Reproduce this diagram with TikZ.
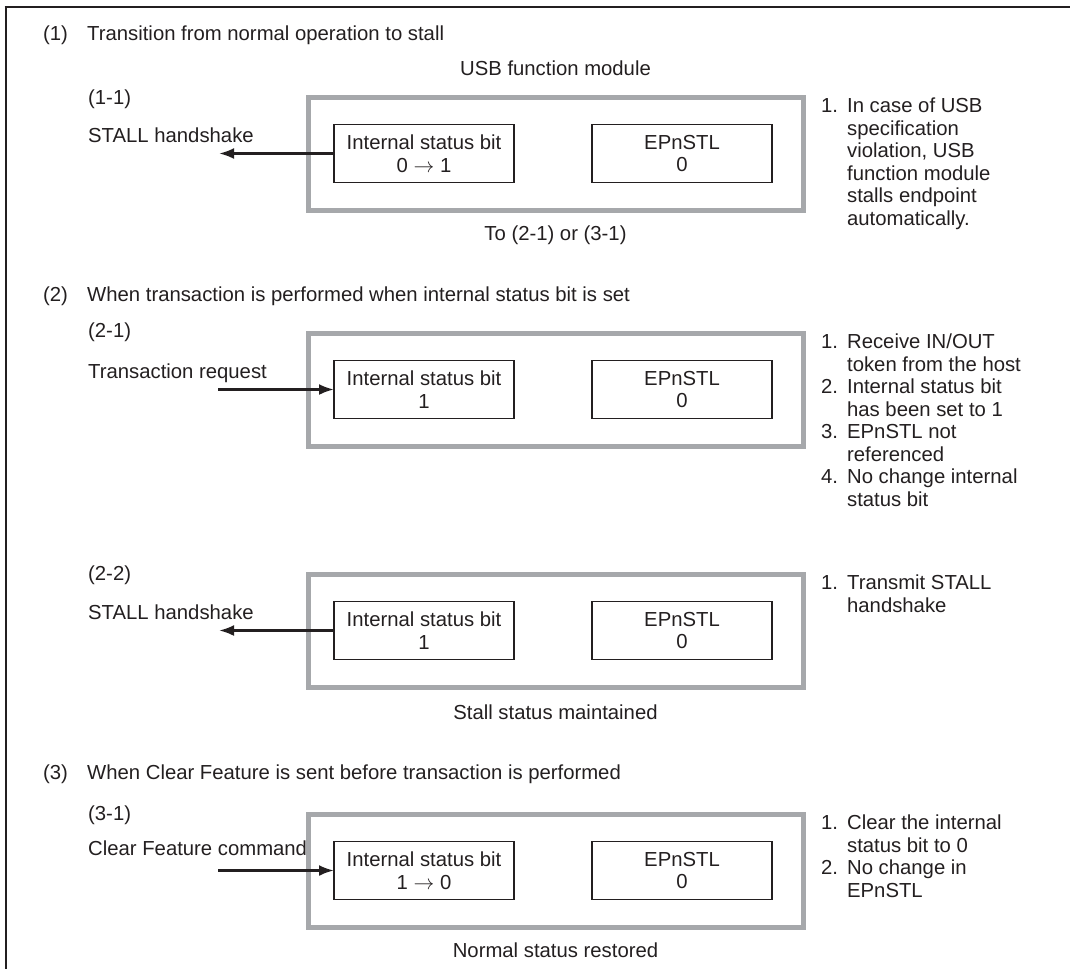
\documentclass[tikz,border=0pt]{standalone}
\usepackage{fontspec}
\setmainfont{Liberation Sans}
\usepackage{xcolor}
\usepackage{tikz}
\usetikzlibrary{arrows.meta, positioning, calc}
\definecolor{USBGray}{RGB}{166, 168, 171}
\definecolor{USBText}{RGB}{35, 31, 32}

\begin{document}
\begin{tikzpicture}[
    x=1pt, y=-1pt,
    every node/.style={font=\fontsize{20.3}{22.5}\selectfont, text=USBText, inner sep=0pt},
    modbox/.style={draw=USBGray, line width=5pt, outer sep=0pt, minimum width=495pt, minimum height=113pt},
    bitbox/.style={draw=USBText, line width=1.2pt, outer sep=0pt, minimum width=180pt, minimum height=58pt, align=center},
    note/.style={anchor=north west, align=left},
    flow/.style={line width=2.6pt, draw=USBText, -{Latex[length=15pt, width=11pt]}}
  ]
    \useasboundingbox (0,0) rectangle (1070,969);
    \draw[line width=2.6pt, USBText] (4.7,7) -- (1070,7);
    \draw[line width=2.6pt, USBText] (6,7) -- (6,969);

    % (1) normal operation -> stall
    \node[anchor=base west] (h1) at (43,40) {\makebox[44pt][l]{(1)}Transition from normal operation to stall};
    \node[modbox] (mod1) at (555.5,153.5) {};
    \node[bitbox, anchor=west] (isb1) at ([xshift=26pt]mod1.west) {Internal status bit\\[0.5pt]0 $\rightarrow$ 1};
    \node[bitbox, anchor=east] (stl1) at ([xshift=-31pt]mod1.east) {EPnSTL\\0};
    \node[anchor=base] (usb) at ([yshift=22pt]mod1.north) {USB function module};
    \node[anchor=base] (to1) at ([yshift=-30pt]mod1.south) {To (2-1) or (3-1)};
    \node[anchor=base west] (p11) at (88,104) {(1-1)};
    \node[anchor=base west] (stall1) at (88,142) {STALL handshake};
    \coordinate (hs1) at (219,153.5);
    \draw[flow] (isb1) -- (hs1);
    \node[note] (n1) at ([xshift=18pt]mod1.north east) {\begin{tabular}{@{}l@{\hspace{9pt}}l@{}}
      1. & In case of USB\\
         & specification\\
         & violation, USB\\
         & function module\\
         & stalls endpoint\\
         & automatically.
    \end{tabular}};

    % (2) transaction while internal status bit is set
    \node[anchor=base west] (h2) at (43,301) {\makebox[44pt][l]{(2)}When transaction is performed when internal status bit is set};
    \node[modbox] (mod2) at (555.5,389.5) {};
    \node[bitbox, anchor=west] (isb2) at ([xshift=26pt]mod2.west) {Internal status bit\\1};
    \node[bitbox, anchor=east] (stl2) at ([xshift=-31pt]mod2.east) {EPnSTL\\0};
    \node[anchor=base west] (p21) at (88,337) {(2-1)};
    \node[anchor=base west] (req2) at (88,378) {Transaction request};
    \coordinate (tr2) at (218,389.5);
    \draw[flow] (tr2) -- (isb2);
    \node[note] (n2) at ([xshift=18pt]mod2.north east) {\begin{tabular}{@{}l@{\hspace{9pt}}l@{}}
      1. & Receive IN/OUT\\
         & token from the host\\
      2. & Internal status bit\\
         & has been set to 1\\
      3. & EPnSTL not\\
         & referenced\\
      4. & No change internal\\
         & status bit
    \end{tabular}};

    \node[modbox] (mod3) at (555.5,630.5) {};
    \node[bitbox, anchor=west] (isb3) at ([xshift=26pt]mod3.west) {Internal status bit\\1};
    \node[bitbox, anchor=east] (stl3) at ([xshift=-31pt]mod3.east) {EPnSTL\\0};
    \node[anchor=base] (kept3) at ([yshift=-32pt]mod3.south) {Stall status maintained};
    \node[anchor=base west] (p22) at (88,580) {(2-2)};
    \node[anchor=base west] (stall3) at (88,619) {STALL handshake};
    \coordinate (hs3) at (219,630.5);
    \draw[flow] (isb3) -- (hs3);
    \node[note] (n3) at ([xshift=18pt]mod3.north east) {\begin{tabular}{@{}l@{\hspace{9pt}}l@{}}
      1. & Transmit STALL\\
         & handshake
    \end{tabular}};

    % (3) clear feature before transaction
    \node[anchor=base west] (h3) at (43,779) {\makebox[44pt][l]{(3)}When Clear Feature is sent before transaction is performed};
    \node[modbox] (mod4) at (555.5,870.5) {};
    \node[bitbox, anchor=west] (isb4) at ([xshift=26pt]mod4.west) {Internal status bit\\[0.5pt]1 $\rightarrow$ 0};
    \node[bitbox, anchor=east] (stl4) at ([xshift=-31pt]mod4.east) {EPnSTL\\0};
    \node[anchor=base] (norm4) at ([yshift=-30pt]mod4.south) {Normal status restored};
    \node[anchor=base west] (p31) at (88,820) {(3-1)};
    \node[anchor=base west] (cf4) at (88,855) {Clear Feature command};
    \coordinate (cmd4) at (218,870.5);
    \draw[flow] (cmd4) -- (isb4);
    \node[note] (n4) at ([xshift=18pt]mod4.north east) {\begin{tabular}{@{}l@{\hspace{9pt}}l@{}}
      1. & Clear the internal\\
         & status bit to 0\\
      2. & No change in\\
         & EPnSTL
    \end{tabular}};
  \end{tikzpicture}
\end{document}
